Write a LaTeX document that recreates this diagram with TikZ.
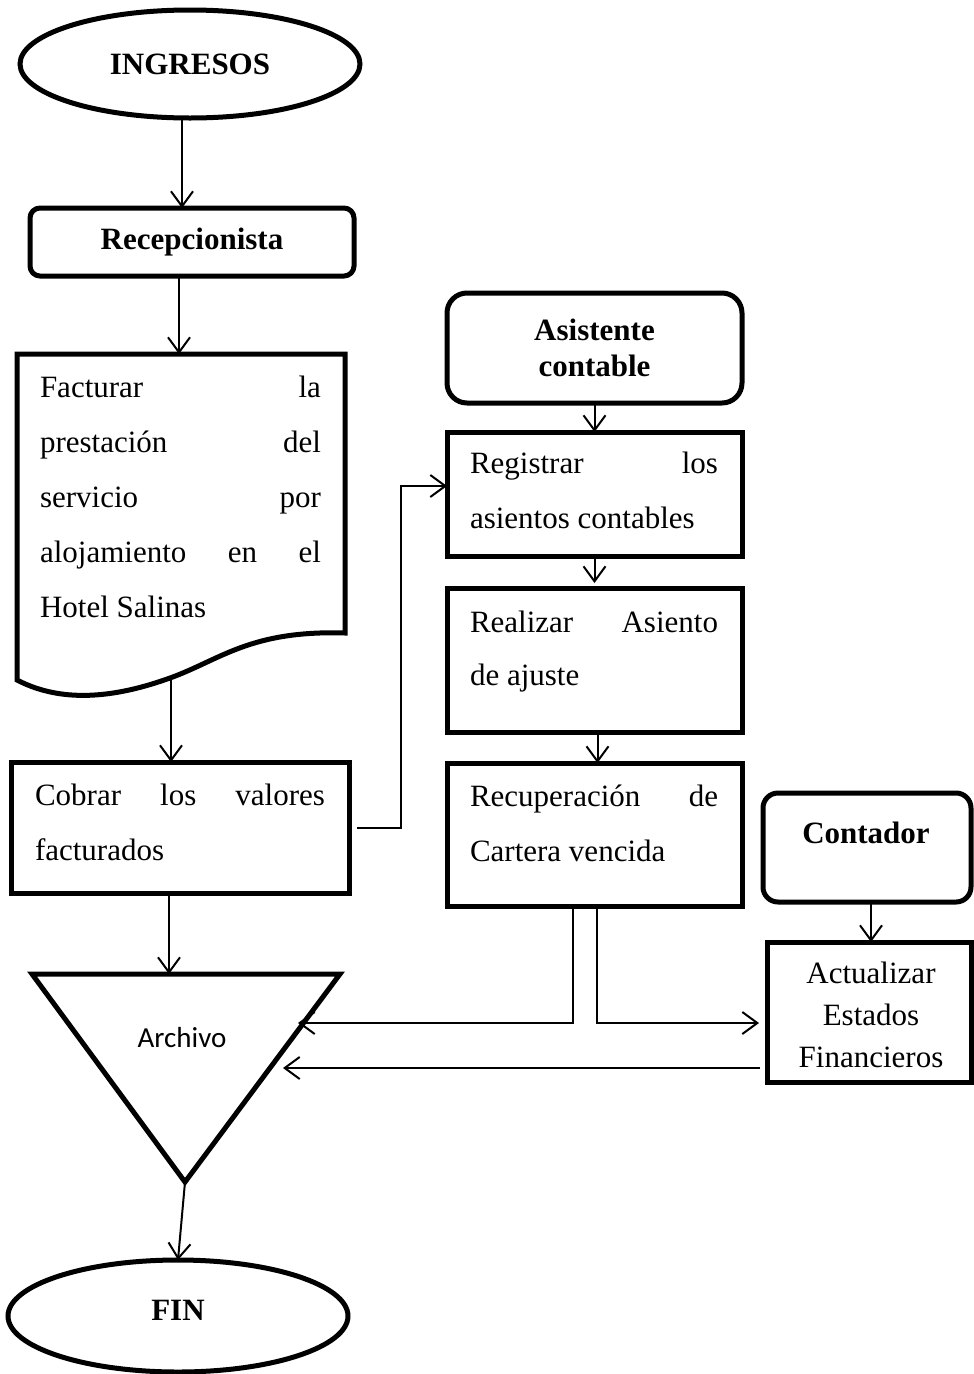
\documentclass[tikz,border=0pt]{standalone}
\usepackage{fontspec}
\setmainfont{Liberation Serif}
\newfontfamily\archfont{Carlito}
\usetikzlibrary{shapes.geometric,arrows.meta,calc}
\begin{document}
\begin{tikzpicture}[x=1pt,y=-1pt,
  every node/.style={inner sep=0pt, outer sep=0pt},
  txt/.style={font=\fontsize{31}{37}\selectfont},
  btxt/.style={font=\fontsize{31}{36}\selectfont\bfseries},
  terminal/.style={ellipse, draw, line width=5pt, btxt},
  actor/.style={rectangle, draw, line width=5pt, rounded corners=#1},
  procbox/.style={rectangle, draw, line width=5pt},
  arr/.style={line width=2pt, -{Straight Barb[length=15pt,width=22pt]}},
]
\useasboundingbox (0,0) rectangle (974,1374);

% start / end terminals
\node[terminal, minimum width=340pt, minimum height=108pt] (ing) at (190,64) {INGRESOS};
\node[terminal, minimum width=340pt, minimum height=112pt, text depth=12pt] (fin) at (178,1316) {FIN};

% roles
\node[actor=10pt, minimum width=324pt, minimum height=68pt, btxt] (rec) at (192,242) {Recepcionista};
\node[actor=20pt, minimum width=295pt, minimum height=110pt, btxt, align=center] (asi) at (594.5,348) {Asistente\\contable};
\node[actor=15pt, minimum width=208pt, minimum height=109pt] (cont) at (867,847.5) {};
\node[btxt, anchor=base] (contt) at (866,843) {Contador};

% document: invoicing
\draw[line width=5pt] (17,354) -- (345,354) -- (345,633)
  .. controls (250,630) and (220,660) .. (170,678)
  .. controls (120,696) and (65,705) .. (17,680) -- cycle;
\coordinate (dtop) at (179,354);
\coordinate (dbot) at (171,676);
\node[txt, anchor=base west] (f1) at (40,397) {\makebox[281pt][s]{Facturar la}};
\node[txt, anchor=base west] (f2) at (40,452) {\makebox[281pt][s]{prestación del}};
\node[txt, anchor=base west] (f3) at (40,507) {\makebox[281pt][s]{servicio por}};
\node[txt, anchor=base west] (f4) at (40,562) {\makebox[281pt][s]{alojamiento en el}};
\node[txt, anchor=base west] (f5) at (40,617) {Hotel Salinas};

% process boxes
\node[procbox, minimum width=338pt, minimum height=131pt] (cob) at (180,827.5) {};
\node[txt, anchor=base west] (c1) at (35,805) {\makebox[290pt][s]{Cobrar los valores}};
\node[txt, anchor=base west] (c2) at (35,860) {facturados};

\node[procbox, minimum width=295pt, minimum height=124pt] (reg) at (594.5,494) {};
\node[txt, anchor=base west] (r1) at (470,473) {\makebox[248pt][s]{Registrar los}};
\node[txt, anchor=base west] (r2) at (470,528) {asientos contables};

\node[procbox, minimum width=295pt, minimum height=144pt] (rea) at (594.5,660) {};
\node[txt, anchor=base west] (a1) at (470,632) {\makebox[248pt][s]{Realizar Asiento}};
\node[txt, anchor=base west] (a2) at (470,685) {de ajuste};

\node[procbox, minimum width=295pt, minimum height=143pt] (recu) at (594.5,834.5) {};
\node[txt, anchor=base west] (u1) at (470,806) {\makebox[248pt][s]{Recuperación de}};
\node[txt, anchor=base west] (u2) at (470,861) {Cartera vencida};

\node[procbox, minimum width=204pt, minimum height=140pt] (act) at (869,1012) {};
\node[txt, anchor=base] (e1) at (871,983) {Actualizar};
\node[txt, anchor=base] (e2) at (871,1025) {Estados};
\node[txt, anchor=base] (e3) at (871,1067) {Financieros};

% archive (inverted triangle)
\draw[line width=5pt] (32,974) -- (340,974) -- (185,1182) coordinate (abot) -- cycle;
\coordinate (archin) at (169,974);
\coordinate (archr1) at (298,1023);
\coordinate (archr2) at (283,1068);
\node[font=\archfont\fontsize{29}{35}\selectfont, anchor=base] (archt) at (182,1047) {Archivo};

% connectors
\draw[arr] ([xshift=-8pt]ing.south) -- ([xshift=-10pt]rec.north);
\draw[arr] ([xshift=-13pt]rec.south) -- (dtop);
\draw[arr] (dbot) -- ([xshift=-9pt]cob.north);
\draw[arr] ([xshift=-11pt]cob.south) -- (archin);
\draw[arr] ([xshift=8pt]cob.east) -- ++(44,0) |- ([yshift=8pt]reg.west);
\draw[arr] (asi.south) -- (reg.north);
\draw[arr] (reg.south) -- ([yshift=5pt]rea.north);
\draw[arr] ([xshift=3pt]rea.south) -- ([xshift=3pt]recu.north);
\draw[arr] ([xshift=-21.5pt]recu.south) |- (archr1);
\draw[arr] ([xshift=2.5pt]recu.south) |- ([shift={(-8pt,-11pt)}]act.west);
\draw[arr] ([shift={(-7pt,-56pt)}]act.west) -- (archr2);
\draw[arr] ([xshift=4pt]cont.south) -- ([xshift=2pt]act.north);
\draw[arr] (abot) -- (fin.north);
\end{tikzpicture}
\end{document}
